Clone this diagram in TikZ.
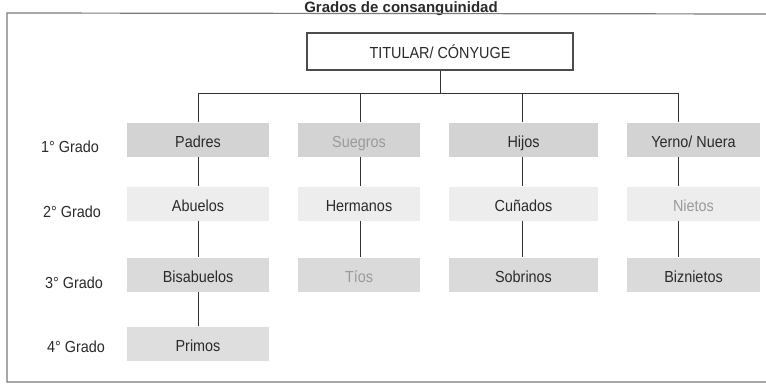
\documentclass[tikz,border=0pt]{standalone}
\usepackage{fontspec}
\setmainfont{Liberation Sans}
\newfontfamily\narrowsans{Liberation Sans}[FakeStretch=0.9]
\definecolor{rowA}{HTML}{D3D3D3}
\definecolor{rowB}{HTML}{EDEDED}
\definecolor{rowC}{HTML}{DADADA}
\definecolor{rowD}{HTML}{DEDEDE}
\definecolor{txtdark}{HTML}{2A2A2A}
\definecolor{txtfade}{HTML}{9A9A9A}
\definecolor{framegray}{HTML}{7A7A7A}
\begin{document}
\begin{tikzpicture}[x=1pt,y=-1pt,
  box/.style={minimum height=34pt, inner sep=0pt, text=txtdark,
    text height=19pt, text depth=3pt,
    font=\narrowsans\fontsize{16}{18}\selectfont},
  w1/.style={minimum width=142pt},
  w2/.style={minimum width=122pt},
  w3/.style={minimum width=149pt},
  w4/.style={minimum width=133pt},
  fade/.style={text=txtfade},
  grado/.style={font=\narrowsans\fontsize{16}{18}\selectfont, text=txtdark, inner sep=0pt},
  conn/.style={draw=black!80, line width=0.8pt}
]
\useasboundingbox (0,0) rectangle (766,386);
\clip (0,0) rectangle (766,386);

% title
\node[font=\bfseries\fontsize{15}{17}\selectfont, anchor=base, text=txtdark] (title) at (401,12) {Grados de consanguinidad};

% frame
\draw[framegray, line width=1.2pt] (772,14) -- (7,13) -- (7,382) -- (772,382);

% top box
\node[draw=black!70, line width=1.2pt, fill=white, minimum width=266pt, minimum height=37pt,
  inner sep=0pt, text=txtdark, font=\narrowsans\fontsize{16}{18}\selectfont] (titular) at (440,51.5) {TITULAR/ CÓNYUGE};

% column line positions
\coordinate (c1) at (198,0);
\coordinate (c2) at (360,0);
\coordinate (c3) at (522,0);
\coordinate (c4) at (678,0);
\coordinate (bus) at (0,93);

% grade labels
\node[grado] (g1) at (70,147) {1° Grado};
\node[grado] (g2) at (72,212) {2° Grado};
\node[grado] (g3) at (74,283) {3° Grado};
\node[grado] (g4) at (76,347) {4° Grado};

% row 1
\node[box, w1, fill=rowA] (padres) at (198,139.5) {Padres};
\node[box, w2, fill=rowA, fade] (suegros) at (359,139.5) {Suegros};
\node[box, w3, fill=rowA] (hijos) at (523.5,139.5) {Hijos};
\node[box, w4, fill=rowA] (yerno) at (693.5,139.5) {Yerno/ Nuera};

% row 2
\node[box, w1, fill=rowB] (abuelos) at (198,203.5) {Abuelos};
\node[box, w2, fill=rowB] (hermanos) at (359,203.5) {Hermanos};
\node[box, w3, fill=rowB] (cunados) at (523.5,203.5) {Cuñados};
\node[box, w4, fill=rowB, fade] (nietos) at (693.5,203.5) {Nietos};

% row 3
\node[box, w1, fill=rowC] (bisabuelos) at (198,274.5) {Bisabuelos};
\node[box, w2, fill=rowC, fade] (tios) at (359,274.5) {Tíos};
\node[box, w3, fill=rowC] (sobrinos) at (523.5,274.5) {Sobrinos};
\node[box, w4, fill=rowC] (biznietos) at (693.5,274.5) {Biznietos};

% row 4
\node[box, w1, fill=rowD] (primos) at (198,343.5) {Primos};

% connectors from top box
\draw[conn] (titular.south) -- (titular.south |- bus);
\draw[conn] (padres.north -| c1) -- (c1 |- bus) -- (c4 |- bus) -- (yerno.north -| c4);
\draw[conn] (suegros.north -| c2) -- (c2 |- bus);
\draw[conn] (hijos.north -| c3) -- (c3 |- bus);

% column connectors
\draw[conn] (padres.south -| c1) -- (abuelos.north -| c1);
\draw[conn] (abuelos.south -| c1) -- (bisabuelos.north -| c1);
\draw[conn] (bisabuelos.south -| c1) -- (primos.north -| c1);
\draw[conn] (suegros.south -| c2) -- (hermanos.north -| c2);
\draw[conn] (hermanos.south -| c2) -- (tios.north -| c2);
\draw[conn] (hijos.south -| c3) -- (cunados.north -| c3);
\draw[conn] (cunados.south -| c3) -- (sobrinos.north -| c3);
\draw[conn] (yerno.south -| c4) -- (nietos.north -| c4);
\draw[conn] (nietos.south -| c4) -- (biznietos.north -| c4);
\end{tikzpicture}
\end{document}
